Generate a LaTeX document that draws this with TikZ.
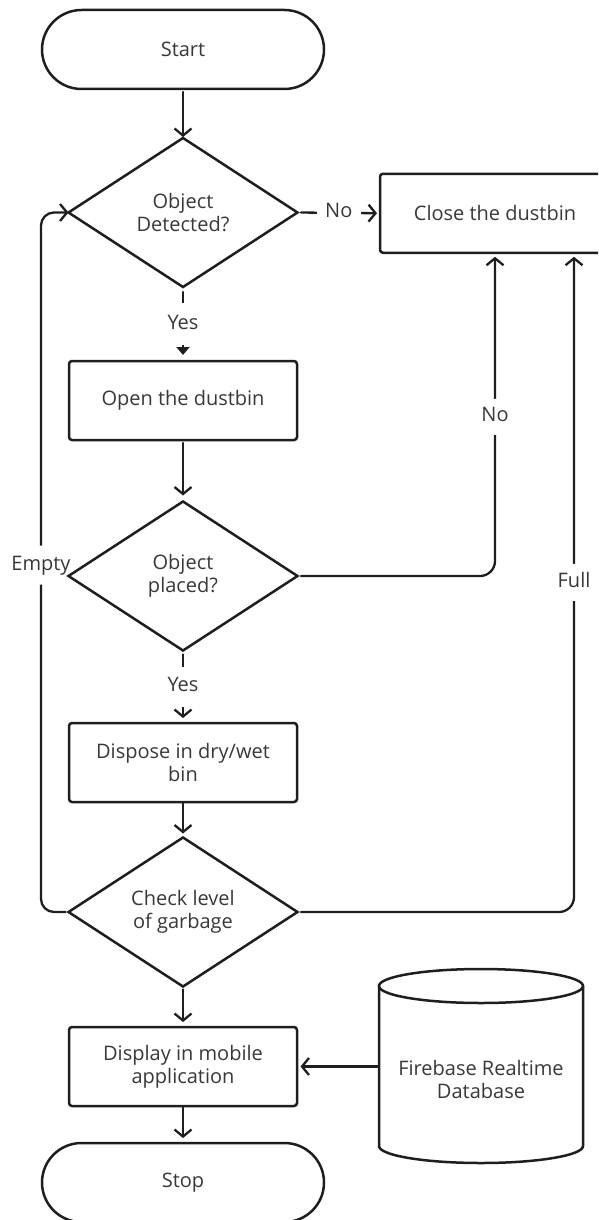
\documentclass[tikz,border=0pt]{standalone}
\usepackage{fontspec}
\setmainfont{Open Sans}
\usetikzlibrary{shapes.geometric,shapes.misc,arrows.meta,backgrounds}
\definecolor{ln}{HTML}{1E1E1E}
\definecolor{tx}{HTML}{383838}
\tikzset{
  txtfont/.style={font=\fontsize{20pt}{23pt}\selectfont},
  base/.style={draw=ln, line width=2.5pt, text=tx, txtfont, align=center, inner sep=0pt, outer sep=0pt},
  term/.style={base, rounded rectangle, minimum width=282pt, minimum height=79pt},
  proc/.style={base, rectangle, rounded corners=3pt, minimum width=228pt, minimum height=79pt},
  dec/.style={base, diamond, aspect=1.537, minimum width=229pt, minimum height=149pt},
  conn/.style={draw=ln, line width=2.3pt, line cap=round, line join=round, -{Straight Barb[length=7pt,width=17pt]}},
  lab/.style={fill=white, text=tx, txtfont, text height=14pt, text depth=4pt},
  hlab/.style={lab, inner xsep=8.5pt, inner ysep=2pt},
  vlab/.style={lab, inner xsep=2pt},
}
\begin{document}
\begin{tikzpicture}[x=1pt,y=1pt]
\useasboundingbox (0,0) rectangle (598,-1220);
\clip (0,0) rectangle (598,-1220);

% nodes
\node[term] (start) at (183,-49.5) {Start};
\node[dec] (d1) at (183,-212.5) {Object\\Detected?};
\node[proc, minimum width=230pt] (close) at (495,-213.25) {Close the dustbin};
\node[proc] (open) at (183,-400.5) {Open the dustbin};
\node[dec] (d2) at (183,-576) {Object\\placed?};
\node[proc] (dispose) at (183,-762.5) {Dispose in dry/wet\\bin};
\node[dec] (d3) at (183,-912) {Check level\\of garbage};
\node[proc] (display) at (183,-1066.5) {Display in mobile\\application};
\node[term] (stop) at (183,-1182.5) {Stop};

% database cylinder
\node[inner sep=0pt, outer sep=0pt, minimum width=204pt, minimum height=194pt] (db) at (481,-1066.5) {};
\draw[ln, line width=2.5pt] (379,-986) -- (379,-1146)
  arc[start angle=180, end angle=360, x radius=102pt, y radius=17pt] -- (583,-986);
\draw[ln, line width=2.5pt] (481,-986) ellipse [x radius=102pt, y radius=17pt];
\node[text=tx, txtfont, align=center] (dbtext) at (481,-1079) {Firebase Realtime\\Database};

\coordinate (emp) at (41,-565);

% connectors
\begin{pgfonlayer}{background}
\draw[conn, shorten <=3pt, shorten >=1pt] (start.south) -- (d1.north);
\draw[conn, shorten <=3.5pt, shorten >=3pt] (d1.east) -- node[hlab] {No} (close.west);
\draw[draw=ln, line width=2.3pt, line cap=round, -{Triangle[length=8pt,width=13pt]}, shorten <=5pt, shorten >=6pt]
  (d1.south) -- node[vlab, inner ysep=12pt] {Yes} (open.north);
\draw[conn, shorten <=3pt, shorten >=6pt] (open.south) -- (d2.north);
\draw[conn, shorten <=4pt, shorten >=5pt] (d2.south) -- node[vlab, inner ysep=11pt] {Yes} (dispose.north);
\draw[conn, shorten <=1pt, shorten >=4pt] (dispose.south) -- (d3.north);
\draw[conn, shorten <=3pt, shorten >=5pt] (d3.south) -- (display.north);
\draw[conn, shorten <=1pt, shorten >=5pt] (display.south) -- (stop.north);
\draw[conn, shorten <=1.5pt, shorten >=3.5pt] (db.west) -- (display.east);
\draw[conn, rounded corners=15pt, shorten <=3.5pt, shorten >=4pt]
  (d2.east) -| node[pos=0.746, vlab, inner ysep=9pt] {No} (close.south);
\draw[conn, rounded corners=15pt, shorten <=3.5pt, shorten >=4pt]
  (d3.east) -| node[pos=0.75, vlab, inner ysep=9.5pt] {Full} ([xshift=79pt]close.south);
\draw[conn, rounded corners=13pt, shorten <=3pt]
  (d3.west) -| node[pos=1, vlab, inner ysep=10.5pt] {Empty} (emp) |- (d1.west);
\end{pgfonlayer}
\end{tikzpicture}
\end{document}
